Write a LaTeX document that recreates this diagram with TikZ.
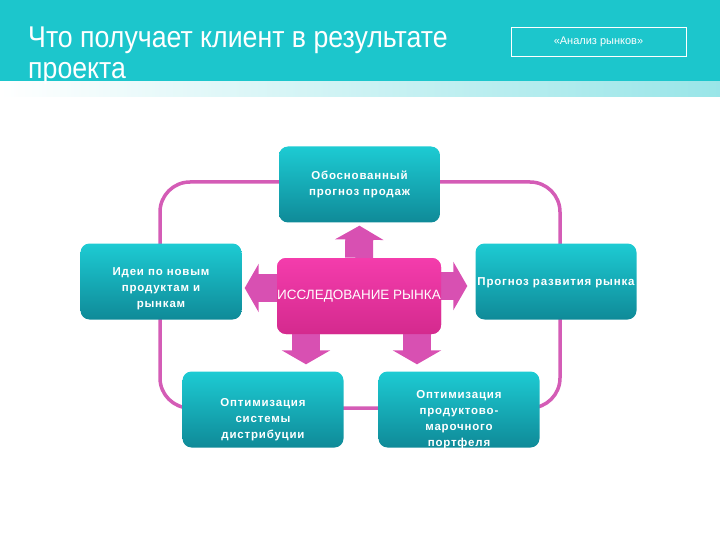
\documentclass[tikz,border=0pt]{standalone}
\usepackage{fontspec}
\setmainfont{Liberation Sans}
\newfontfamily\boxfont[LetterSpace=7]{Liberation Sans}
\newfontfamily\titlefont[FakeStretch=0.89]{Liberation Sans}
\usetikzlibrary{positioning,calc,arrows.meta}
\definecolor{bandteal}{HTML}{1CC6CC}
\definecolor{tealtop}{HTML}{1DCBD3}
\definecolor{tealbottom}{HTML}{0F8A98}
\definecolor{pinktop}{HTML}{F43CAC}
\definecolor{pinkbottom}{HTML}{D42A8E}
\definecolor{arrowpink}{HTML}{D850B2}
\definecolor{looppink}{HTML}{D45CB6}
\tikzset{
	% The teal boxes with what the client gets
	result/.style={
		rectangle, rounded corners=9pt, top color=tealtop, bottom color=tealbottom,
		minimum width=161pt, minimum height=76pt, inner sep=0pt
	},
	% The text in the teal boxes
	resulttext/.style={
		text=white, align=center, font=\boxfont\bfseries\fontsize{11.5}{16}\selectfont
	},
	% The market research in the middle
	research/.style={
		rectangle, rounded corners=9pt, top color=pinktop, bottom color=pinkbottom,
		minimum width=164pt, minimum height=76pt, inner sep=0pt,
		text=white, font=\fontsize{13.5}{15}\selectfont
	},
	% The fat arrows out of the middle
	outarrow/.style={
		draw=arrowpink, line width=28pt, -{Triangle[width=48pt,length=14pt]}
	},
	% The ring behind the boxes
	ring/.style={
		draw=looppink, line width=3.5pt, rounded corners=30pt
	},
}
\begin{document}
\begin{tikzpicture}[x=1pt,y=-1pt]
	\useasboundingbox (0,0) rectangle (720,540);
	% Header
	\fill[bandteal] (0,0) rectangle (720,82);
	\shade[left color=white, right color=bandteal!45] (0,82) rectangle (720,97);
	\node [anchor=north west, align=left, text=white, inner sep=0pt,
		font=\titlefont\fontsize{30}{31}\selectfont] (title) at (28,26.5)
		{Что получает клиент в результате\\проекта};
	\node [draw=white, line width=0.8pt, minimum width=175pt, minimum height=29pt,
		text=white, font=\fontsize{11}{12}\selectfont] (tag) at (598.5,41.5) {«Анализ рынков»};

	% Ring
	\draw [ring] (160,182) rectangle (560,408);

	% Boxes
	\node [result] (sales) at (359.5,184.5) {};
	\node [resulttext] (sales text) at (sales) {Обоснованный\\прогноз продаж};
	\node [result] (ideas) at (161,281.5) {};
	\node [resulttext] (ideas text) at ($(ideas)+(0,7)$) {Идеи по новым\\продуктам и\\рынкам};
	\node [result] (market) at (556,281.5) {};
	\node [resulttext] (market text) at ($(market)+(0,1.5)$) {Прогноз развития рынка};
	\node [result] (distrib) at (263,409.5) {};
	\node [resulttext] (distrib text) at ($(distrib)+(0,10.5)$) {Оптимизация\\системы\\дистрибуции};
	\node [result] (brands) at (459,409.5) {};
	\node [resulttext] (brands text) at ($(brands)+(0,10)$) {Оптимизация\\продуктово-\\марочного\\портфеля};

	% Middle
	\node [research] (center) at (359,296) {};

	% Arrows
	\coordinate (left tail) at ($(center.west)+(0,-8)$);
	\coordinate (right tail) at ($(center.east)+(0,-10)$);
	\coordinate (down one) at ($(center.south)+(-53,0)$);
	\coordinate (down two) at ($(center.south)+(58,0)$);
	\draw [outarrow, shorten >=3pt] (center.north) -- (sales.south);
	\draw [outarrow, shorten >=3pt] (left tail) -- (ideas.east |- left tail);
	\draw [outarrow, shorten >=8pt] (right tail) -- (market.west |- right tail);
	\draw [outarrow, shorten >=7pt] (down one) -- (down one |- distrib.north);
	\draw [outarrow, shorten >=7pt] (down two) -- (down two |- brands.north);
	\node [research] (center label) at (center) {ИССЛЕДОВАНИЕ РЫНКА};
\end{tikzpicture}
\end{document}
